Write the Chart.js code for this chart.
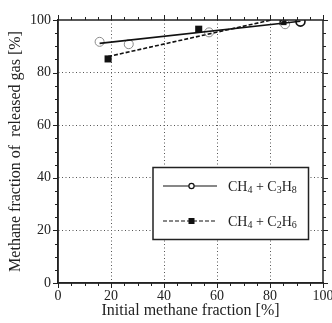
<!DOCTYPE html>
<html>
<head>
<meta charset="utf-8">
<script src="https://cdn.jsdelivr.net/npm/chart.js@4/dist/chart.umd.min.js"></script>
<style>
  html, body { margin: 0; padding: 0; background: #fff; overflow: hidden; }
  #wrap { width: 345px; height: 323px; }
</style>
</head>
<body>
<div id="wrap"><canvas id="myChart" width="345" height="323"></canvas></div>
<script>
// CH4 + C3H8 (open circles) and its fitted line
const c3h8X = [15.7, 26.7, 57.0, 85.7, 91.5];
const c3h8Y = [91.7, 90.8, 95.3, 98.4, 99.4];
const c3h8FitX = [15.7, 91.5];
const c3h8FitY = [91.1, 99.5];

// CH4 + C2H6 (filled squares) and its fitted line
const c2h6X = [18.9, 53.1, 84.9];
const c2h6Y = [85.2, 96.5, 99.4];
const c2h6FitX = [18.9, 80.5];
const c2h6FitY = [86.1, 100.0];

const axisMin = 0;
const axisMax = 100;
const majorStep = 20;
const minorStep = 5;

const xTitle = 'Initial methane fraction [%]';
const yTitle = 'Methane fraction of  released gas [%]';
const legendItems = [
  { parts: [['CH', 0], ['4', 1], [' + C', 0], ['3', 1], ['H', 0], ['8', 1]], dataset: 0 },
  { parts: [['CH', 0], ['4', 1], [' + C', 0], ['2', 1], ['H', 0], ['6', 1]], dataset: 2 }
];

const serif = '"Liberation Serif", "DejaVu Serif", serif';

function toPoints(xs, ys) {
  return xs.map((x, i) => ({ x: x, y: ys[i] }));
}

// frame on top/right, outward ticks on all four sides
const framePlugin = {
  id: 'frame',
  afterDraw(chart) {
    const ctx = chart.ctx;
    const a = chart.chartArea;
    const xs = chart.scales.x;
    const ys = chart.scales.y;
    ctx.save();
    ctx.strokeStyle = '#222';
    ctx.lineWidth = 1.5;
    ctx.strokeRect(a.left, a.top, a.right - a.left, a.bottom - a.top);
    ctx.lineWidth = 1;
    for (let v = axisMin; v <= axisMax; v += minorStep) {
      const len = v % majorStep === 0 ? 5 : 3;
      const px = Math.round(xs.getPixelForValue(v)) + 0.5;
      const py = Math.round(ys.getPixelForValue(v)) + 0.5;
      ctx.beginPath();
      ctx.moveTo(px, a.bottom); ctx.lineTo(px, a.bottom + len);
      ctx.moveTo(px, a.top); ctx.lineTo(px, a.top - len);
      ctx.moveTo(a.left, py); ctx.lineTo(a.left - len, py);
      ctx.moveTo(a.right, py); ctx.lineTo(a.right + len, py);
      ctx.stroke();
    }
    ctx.restore();
  }
};

// boxed legend with subscripts
const legendPlugin = {
  id: 'subLegend',
  afterDraw(chart) {
    const ctx = chart.ctx;
    const a = chart.chartArea;
    const box = { left: a.left + 95, top: 167.5, right: a.left + 250.5, bottom: 239.5 };
    ctx.save();
    ctx.fillStyle = '#fff';
    ctx.fillRect(box.left, box.top, box.right - box.left, box.bottom - box.top);
    ctx.strokeStyle = '#222';
    ctx.lineWidth = 1.5;
    ctx.strokeRect(box.left, box.top, box.right - box.left, box.bottom - box.top);

    legendItems.forEach((item, i) => {
      const y = 186 + i * 35;
      const fitDs = chart.data.datasets[item.dataset];
      const ptDs = chart.data.datasets[item.dataset + 1];
      ctx.strokeStyle = '#111';
      ctx.lineWidth = 1.2;
      ctx.setLineDash(fitDs.borderDash || []);
      ctx.beginPath();
      ctx.moveTo(box.left + 10, y);
      ctx.lineTo(box.left + 64, y);
      ctx.stroke();
      ctx.setLineDash([]);
      const mx = box.left + 38.5;
      if (ptDs.pointStyle === 'rect') {
        ctx.fillStyle = '#111';
        ctx.fillRect(mx - 3, y - 3, 6, 6);
      } else {
        ctx.fillStyle = '#fff';
        ctx.lineWidth = 1.2;
        ctx.beginPath();
        ctx.arc(mx, y, 2.6, 0, Math.PI * 2);
        ctx.fill();
        ctx.stroke();
      }
      let tx = box.left + 75;
      ctx.fillStyle = '#222';
      ctx.textBaseline = 'alphabetic';
      item.parts.forEach(([txt, sub]) => {
        ctx.font = (sub ? '10px ' : '14px ') + serif;
        ctx.fillText(txt, tx, y + (sub ? 7 : 4.5));
        tx += ctx.measureText(txt).width;
      });
    });
    ctx.restore();
  }
};

const ctx = document.getElementById('myChart').getContext('2d');

const myChart = new Chart(ctx, {
  type: 'scatter',
  data: {
    datasets: [
      {
        label: 'CH4 + C3H8 fit',
        data: toPoints(c3h8FitX, c3h8FitY),
        showLine: true,
        borderColor: '#111',
        borderWidth: 1.6,
        pointRadius: 0,
        order: 1
      },
      {
        label: 'CH4 + C3H8',
        data: toPoints(c3h8X, c3h8Y),
        pointStyle: 'circle',
        pointRadius: 4.5,
        pointBackgroundColor: 'rgba(255,255,255,0)',
        pointBorderColor: ['#8a8a8a', '#8a8a8a', '#8a8a8a', '#8a8a8a', '#111'],
        pointBorderWidth: [1, 1, 1, 1, 1.6],
        order: 2
      },
      {
        label: 'CH4 + C2H6 fit',
        data: toPoints(c2h6FitX, c2h6FitY),
        showLine: true,
        borderColor: '#111',
        borderWidth: 1.6,
        borderDash: [4, 2],
        pointRadius: 0,
        order: 3
      },
      {
        label: 'CH4 + C2H6',
        data: toPoints(c2h6X, c2h6Y),
        pointStyle: 'rect',
        pointRadius: 5,
        pointBackgroundColor: '#111',
        pointBorderColor: '#111',
        pointBorderWidth: 0,
        order: 4
      }
    ]
  },
  options: {
    responsive: false,
    animation: false,
    layout: { autoPadding: false, padding: { top: 20, right: 22, left: 0, bottom: 0 } },
    plugins: { legend: { display: false }, tooltip: { enabled: false } },
    scales: {
      x: {
        type: 'linear',
        min: axisMin,
        max: axisMax,
        afterFit: function(scale) { scale.height = 40; },
        ticks: {
          stepSize: minorStep,
          autoSkip: false,
          maxRotation: 0,
          padding: 5,
          color: '#222',
          font: { family: serif, size: 14 },
          callback: v => (v % majorStep === 0 ? v : '')
        },
        grid: {
          drawTicks: false,
          lineWidth: 1,
          color: c => {
            const v = c.tick ? c.tick.value : 0;
            return (v % majorStep === 0 && v > axisMin && v < axisMax) ? '#555' : 'rgba(0,0,0,0)';
          }
        },
        border: { display: true, color: '#222', width: 1.5, dash: [1, 2.5] },
        title: {
          display: true,
          text: xTitle,
          color: '#222',
          font: { family: serif, size: 16 },
          padding: { top: 0, bottom: 3 }
        }
      },
      y: {
        type: 'linear',
        min: axisMin,
        max: axisMax,
        afterFit: function(scale) { scale.width = 58; },
        ticks: {
          stepSize: minorStep,
          autoSkip: false,
          padding: 7,
          color: '#222',
          font: { family: serif, size: 14 },
          callback: v => (v % majorStep === 0 ? v : '')
        },
        grid: {
          drawTicks: false,
          lineWidth: 1,
          color: c => {
            const v = c.tick ? c.tick.value : 0;
            return (v % majorStep === 0 && v > axisMin && v < axisMax) ? '#555' : 'rgba(0,0,0,0)';
          }
        },
        border: { display: true, color: '#222', width: 1.5, dash: [1, 2.5] },
        title: {
          display: true,
          text: yTitle,
          color: '#222',
          font: { family: serif, size: 16 },
          padding: { top: 6, bottom: 0 }
        }
      }
    }
  },
  plugins: [framePlugin, legendPlugin]
});
</script>
</body>
</html>
